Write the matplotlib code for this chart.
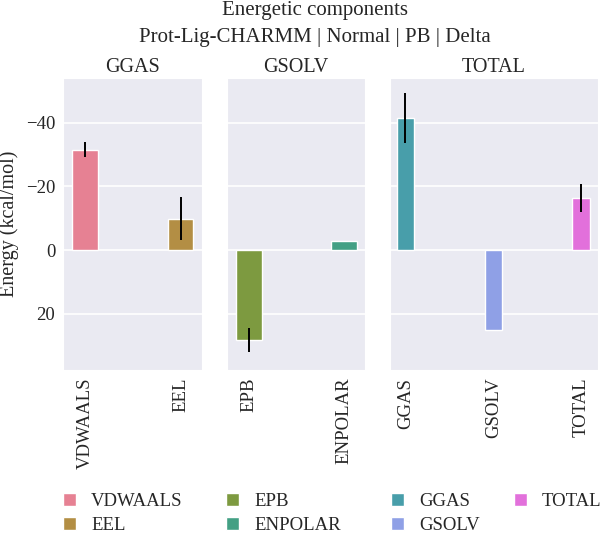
import numpy as np
import matplotlib
matplotlib.use("Agg")
import matplotlib.pyplot as plt
import matplotlib.patches as mpatches
from matplotlib.ticker import MultipleLocator
import seaborn as sns

# energy terms per panel (kcal/mol) with std
panel_titles = ["GGAS", "GSOLV", "TOTAL"]
ggas_terms = ["VDWAALS", "EEL"]
ggas_vals = [-31.5, -9.9]
ggas_err = [2.3, 6.8]
gsolv_terms = ["EPB", "ENPOLAR"]
gsolv_vals = [28.2, -2.9]
gsolv_err = [3.8, 0.0]
total_terms = ["GGAS", "GSOLV", "TOTAL"]
total_vals = [-41.5, 25.0, -16.4]
total_err = [7.8, 0.0, 4.3]

sns.set_style("darkgrid")
plt.rcParams["font.family"] = ["Liberation Serif", "DejaVu Serif"]
plt.rcParams["axes.unicode_minus"] = True

pal = [sns.desaturate(c, 0.75) for c in sns.color_palette("husl", 7)]

terms = [ggas_terms, gsolv_terms, total_terms]
vals = [ggas_vals, gsolv_vals, total_vals]
errs = [ggas_err, gsolv_err, total_err]
widths = [0.27, 0.27, 0.2]
xlims = [(-0.229, 1.22), (-0.234, 1.22), (-0.172, 2.19)]

fig = plt.figure(figsize=(6, 5.37), dpi=100)
gs = fig.add_gridspec(1, 3, width_ratios=[2, 2, 3], left=63/600, right=598/600,
                      top=1-78/537, bottom=1-370/537, wspace=0.155)
axes = [fig.add_subplot(gs[0])]
axes.append(fig.add_subplot(gs[1], sharey=axes[0]))
axes.append(fig.add_subplot(gs[2], sharey=axes[0]))

legend_x = [63, 226, 391]
k = 0
for i, ax in enumerate(axes):
    x = np.arange(len(terms[i]))
    cols = pal[k:k+len(terms[i])]
    k += len(terms[i])
    ax.bar(x, vals[i], widths[i], color=cols, edgecolor="white", linewidth=1,
           yerr=errs[i], error_kw=dict(ecolor="black", elinewidth=1.4, capsize=0))
    ax.set_xticks(x)
    ax.set_xticklabels(terms[i], rotation=90)
    ax.set_xlim(*xlims[i])
    ax.grid(axis="x", visible=False)
    ax.grid(axis="y", color="white", linewidth=1.2)
    ax.set_title(panel_titles[i], fontsize=14.5, pad=4)
    ax.tick_params(axis="both", labelsize=13.5, pad=5.5, length=0)
    if i > 0:
        ax.tick_params(axis="y", labelleft=False)
    handles = [mpatches.Patch(facecolor=c, edgecolor="white", label=t) for c, t in zip(cols, terms[i])]
    fig.legend(handles=handles, loc="upper left", bbox_to_anchor=(legend_x[i]/600, 1-493/537),
               ncol=2 if i == 2 else 1, frameon=False, fontsize=13.5, borderpad=0,
               borderaxespad=0, handlelength=0.7, handleheight=0.7, handletextpad=0.8,
               labelspacing=0.38, columnspacing=1.8)

axes[0].yaxis.set_major_locator(MultipleLocator(20))
axes[0].set_ylim(37.6, -54)
axes[0].set_ylabel("Energy (kcal/mol)", fontsize=14.5, labelpad=5)

fig.suptitle("Energetic components\nProt-Lig-CHARMM | Normal | PB | Delta",
             x=0.525, y=0.998, va="top", fontsize=15, linespacing=1.55)

fig.savefig("out.png", dpi=100)
